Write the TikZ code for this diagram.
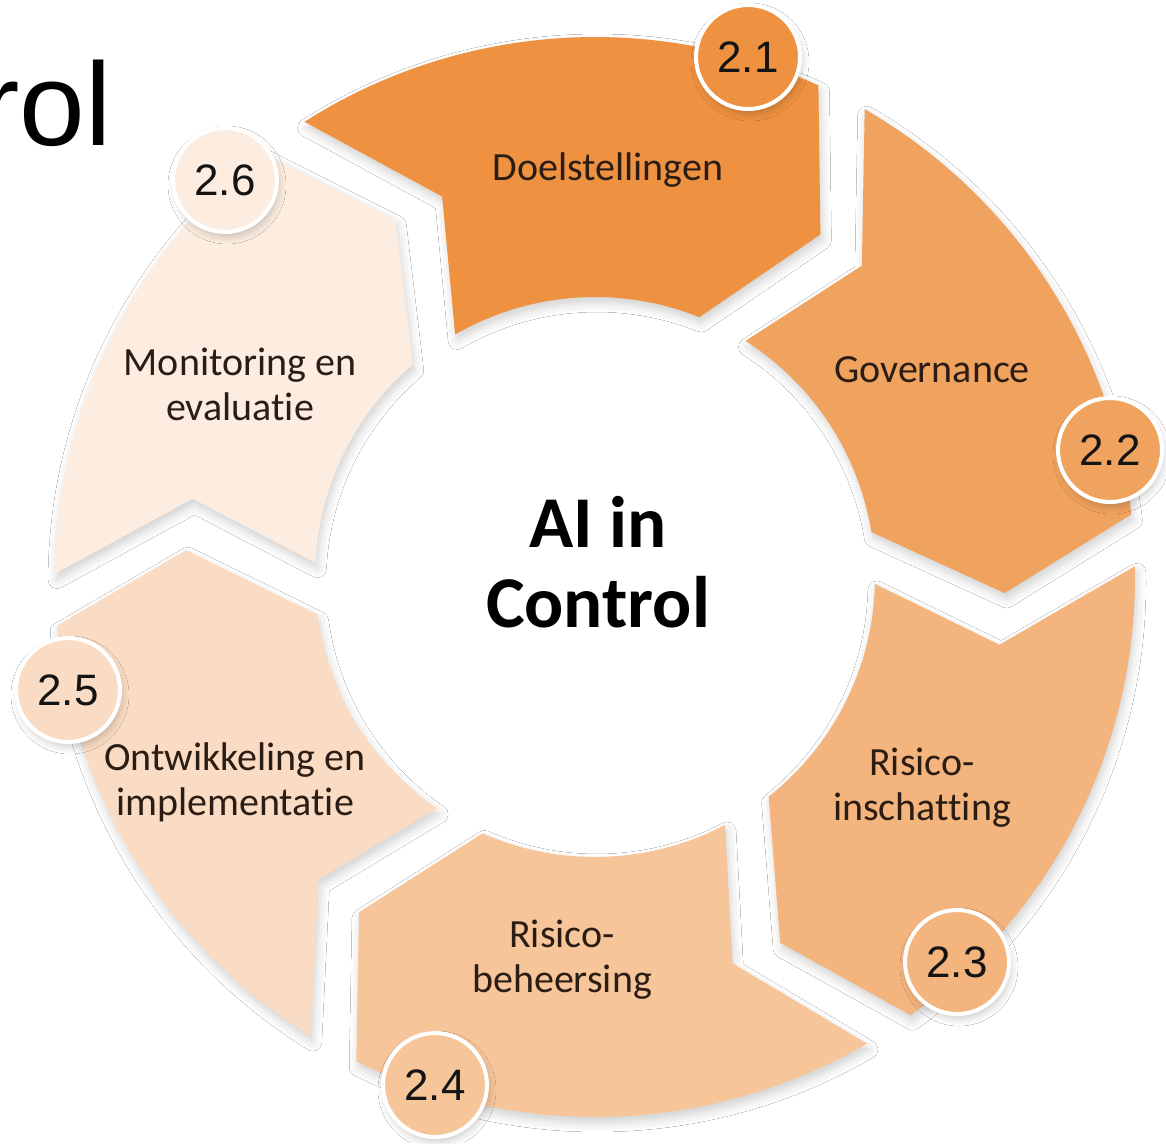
\documentclass[tikz,border=0pt]{standalone}
\usepackage{fontspec}
\setmainfont{Carlito}[Ligatures={NoCommon}]
\newfontfamily\numfont{Liberation Sans}
\usetikzlibrary{calc,shadows.blur}
\definecolor{cA}{HTML}{EE9241}
\definecolor{cB}{HTML}{F0A35E}
\definecolor{cC}{HTML}{F3B47E}
\definecolor{cD}{HTML}{F6C59A}
\definecolor{cE}{HTML}{F9DCC3}
\definecolor{cF}{HTML}{FCEDE0}
\definecolor{labeltext}{HTML}{2B1D14}
\definecolor{numtext}{HTML}{141414}
\newcommand\ringseg[3]{%
  \pgfmathsetmacro\aTo{-(#1-2.76)}%
  \pgfmathsetmacro\aHo{-(#2+2.76)}%
  \pgfmathsetmacro\aHt{-(#2-6.15)}%
  \pgfmathsetmacro\aHi{-(#2+5.32)}%
  \pgfmathsetmacro\aTi{-(#1-5.32)}%
  \pgfmathsetmacro\aTn{-(#1-13.41)}%
  \path[segshape, fill=#3] (\aTo:540) arc[start angle=\aTo, end angle=\aHo, radius=540]
    -- (\aHt:410) -- (\aHi:280) arc[start angle=\aHi, end angle=\aTi, radius=280]
    -- (\aTn:410) -- cycle;
}
\tikzset{
  segshape/.style={blur shadow={shadow xshift=2pt, shadow yshift=-6pt, shadow blur radius=9pt, shadow opacity=18}},
  seglabel/.style={align=center, font=\fontsize{40}{45}\selectfont, text=labeltext, inner sep=0pt},
  badge/.style={circle, minimum size=104pt, inner sep=0pt, draw=white, line width=4pt,
    font=\numfont\fontsize{44}{44}\selectfont, text=numtext,
    blur shadow={shadow xshift=2pt, shadow yshift=-5pt, shadow blur radius=7pt, shadow opacity=20}},
  centertext/.style={align=center, font=\bfseries\fontsize{73}{80}\selectfont, text=black, inner sep=0pt},
}
\begin{document}
\begin{tikzpicture}[x=1pt, y=-1pt]
\useasboundingbox (0,0) rectangle (1166,1143);
\clip (0,0) rectangle (1166,1143);
\fill[white] (0,0) rectangle (1166,1143);
% title fragment
\node[anchor=base west, inner sep=0pt, font=\numfont\fontsize{118}{118}\selectfont, text=black] (title) at (-20,145) {rol};
% ring segments
\begin{scope}[shift={(595,577)}]
  \ringseg{125.3}{62.8}{cA}
  \ringseg{62.8}{3.9}{cB}
  \ringseg{3.9}{-57}{cC}
  \ringseg{-57}{-119}{cD}
  \ringseg{-119}{-177.6}{cE}
  \ringseg{-177.6}{-234.7}{cF}
\end{scope}
% labels
\node[seglabel] (l1) at (608,170) {Doelstellingen};
\node[seglabel] (l2) at (932,370) {Governance};
\node[seglabel] (l3) at (922,788) {Risico-\\inschatting};
\node[seglabel] (l4) at (562,960) {Risico-\\beheersing};
\node[seglabel] (l5) at (235,782) {Ontwikkeling en\\implementatie};
\node[seglabel] (l6) at (240,384) {Monitoring en\\evaluatie};
% centre
\node[centertext] (ct) at (598,562) {AI in\\Control};
% badges
\node[badge, fill=cA] (b1) at (748,57) {2.1};
\node[badge, fill=cB] (b2) at (1110,450) {2.2};
\node[badge, fill=cC] (b3) at (957,962) {2.3};
\node[badge, fill=cD] (b4) at (435,1085) {2.4};
\node[badge, fill=cE] (b5) at (68,690) {2.5};
\node[badge, fill=cF] (b6) at (225,180) {2.6};
\end{tikzpicture}
\end{document}
